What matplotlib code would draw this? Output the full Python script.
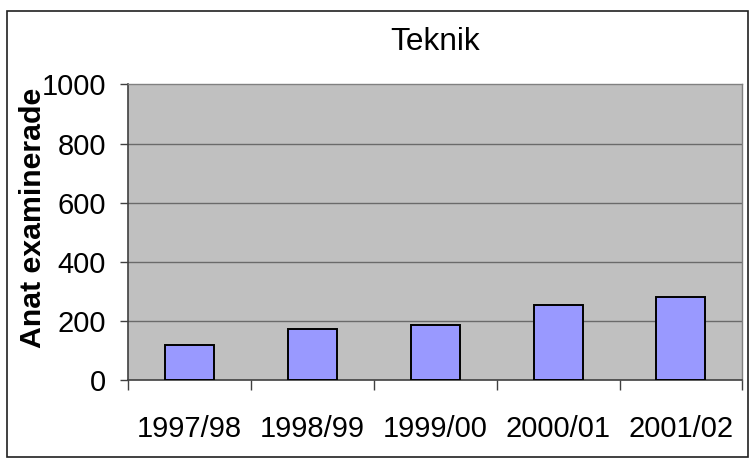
import matplotlib
matplotlib.use("Agg")
import matplotlib.pyplot as plt
from matplotlib.patches import Rectangle

# data
years = ['1997/98', '1998/99', '1999/00', '2000/01', '2001/02']
examinerade = [119, 173, 188, 255, 282]
yticks = [0, 200, 400, 600, 800, 1000]

plt.rcParams['font.family'] = ['Liberation Sans', 'DejaVu Sans']

W, H = 755, 467
fig = plt.figure(figsize=(W / 100, H / 100), dpi=100)
fig.patch.set_facecolor('white')

# yttre ram
fig.patches.append(Rectangle((7 / W, 1 - 457 / H), 741 / W, 446 / H,
                             transform=fig.transFigure, fill=False,
                             edgecolor='#202020', linewidth=1.2))

left, right, top, bottom = 128.3, 742.3, 84.3, 380.3
ax = fig.add_axes([left / W, 1 - bottom / H, (right - left) / W, (bottom - top) / H])
ax.set_facecolor('#C0C0C0')

x = list(range(len(years)))
ax.bar(x, examinerade, width=0.4, color='#9999FF', edgecolor='black', linewidth=1.4, zorder=3)

ax.set_xlim(-0.5, len(years) - 0.5)
ax.set_ylim(0, 1000)
ax.set_yticks(yticks)
ax.set_yticklabels([str(v) for v in yticks], fontsize=21)
for v in yticks[1:-1]:
    ax.axhline(v, color='#6a6a6a', linewidth=1.0, zorder=1)

# x-streck mellan kategorierna
ax.set_xticks([i + 0.5 for i in x[:-1]] + [-0.5, len(years) - 0.5])
ax.set_xticklabels([])
ax.set_xticks(x, minor=True)
ax.set_xticklabels(years, minor=True, fontsize=21)
ax.tick_params(axis='x', which='minor', length=0, pad=25)
ax.tick_params(axis='x', which='major', length=7, width=1, color='#404040', direction='out')
ax.tick_params(axis='y', length=6, width=1, color='#404040', direction='out', pad=10)

for s in ['left', 'bottom']:
    ax.spines[s].set_color('#404040')
    ax.spines[s].set_linewidth(1.2)
for s in ['top', 'right']:
    ax.spines[s].set_color('#808080')
    ax.spines[s].set_linewidth(1.0)

fig.text((left + right) / 2 / W, 1 - 42 / H, 'Teknik', fontsize=22.8,
         ha='center', va='center')
fig.text(33 / W, 1 - 218 / H, 'Anat examinerade', fontsize=21.8, fontweight='bold',
         rotation=90, ha='center', va='center')

fig.savefig('out.png', dpi=100)
